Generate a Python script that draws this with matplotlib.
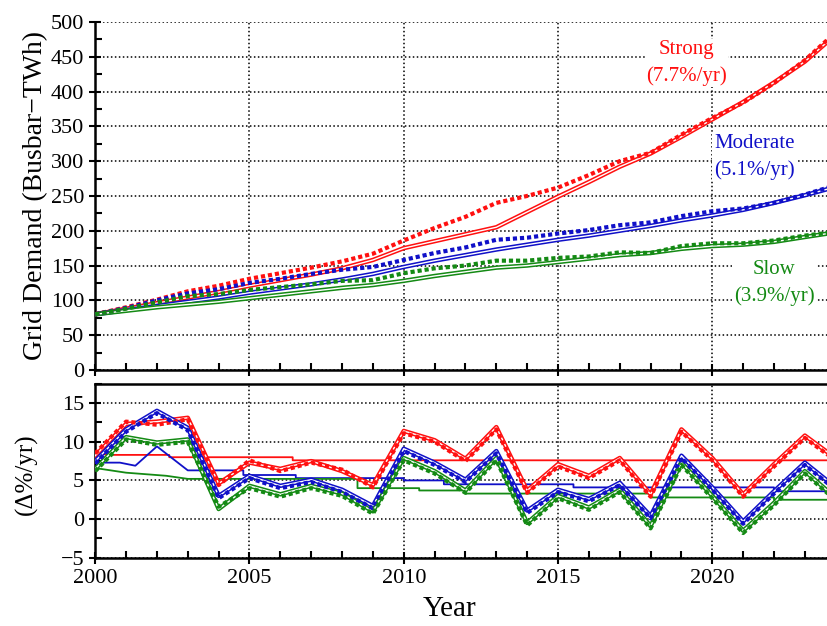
import matplotlib.pyplot as plt
from matplotlib.ticker import MultipleLocator

plt.rcParams["font.family"] = ["Liberation Serif", "DejaVu Serif"]

# top panel: grid demand (TWh)
years = [2000, 2001, 2002, 2003, 2004, 2005, 2006, 2007, 2008, 2009, 2010, 2011,
         2012, 2013, 2014, 2015, 2016, 2017, 2018, 2019, 2020, 2021, 2022, 2023, 2023.75]

strong_dem = [80, 90, 101, 113, 121, 131, 139, 147, 156, 167, 186, 204,
              220, 240, 250, 262, 280, 300, 312, 338, 362, 384, 412, 445, 475]
strong_fit = [80, 88, 96, 104, 112, 121, 129, 137, 146, 158, 175, 185,
              195, 205, 227, 249, 270, 292, 311, 335, 360, 385, 413, 443, 472]
moderate_dem = [80, 89, 100, 110, 116, 125, 131, 138, 144, 148, 158, 168,
                176, 187, 190, 196, 201, 208, 212, 221, 228, 232, 240, 252, 262]
moderate_fit = [80, 86, 92, 98, 104, 111, 117, 123, 130, 138, 148, 157,
                165, 173, 180, 187, 193, 200, 207, 215, 222, 230, 240, 251, 260]
slow_dem = [80, 88, 97, 106, 109, 115, 119, 123, 128, 129, 139, 146,
            150, 157, 157, 161, 163, 169, 168, 178, 182, 182, 186, 193, 197]
slow_fit = [80, 85, 90, 94, 98, 103, 108, 113, 118, 122, 128, 135,
            141, 147, 150, 155, 160, 165, 168, 174, 178, 180, 184, 191, 196]

# bottom panel: annual growth (%/yr)
strong_gr = [8.5, 12.6, 12.2, 12.9, 4.4, 7.6, 6.2, 7.3, 6.4, 4.1, 11.1, 10.0,
             7.5, 11.6, 3.4, 6.8, 5.3, 7.6, 2.9, 11.3, 7.6, 2.9, 6.8, 10.5, 8.3]
strong_gr2 = [8.2, 12.3, 12.6, 13.1, 4.6, 7.3, 6.5, 7.5, 6.2, 4.4, 11.4, 10.2,
              7.8, 11.9, 3.7, 7.1, 5.6, 7.9, 3.2, 11.6, 7.9, 3.2, 7.1, 10.8, 8.6]
moderate_gr = [7.2, 11.3, 13.7, 11.5, 2.7, 5.3, 4.0, 4.8, 3.5, 1.4, 8.8, 7.0,
               4.8, 8.5, 0.8, 3.5, 2.3, 4.4, 0.1, 7.9, 3.8, -0.6, 3.3, 7.0, 4.6]
moderate_gr2 = [7.5, 11.6, 14.0, 11.8, 3.0, 5.6, 4.3, 5.1, 3.8, 1.7, 9.1, 7.3,
                5.1, 8.8, 1.1, 3.8, 2.6, 4.7, 0.4, 8.2, 4.1, -0.3, 3.6, 7.3, 4.9]
slow_gr = [6.2, 10.3, 9.6, 10.0, 1.6, 4.0, 2.9, 4.0, 3.0, 0.7, 7.6, 5.9,
           3.4, 7.6, -0.8, 2.7, 1.2, 3.5, -1.2, 7.0, 2.7, -1.8, 1.8, 5.9, 3.3]
slow_gr2 = [6.5, 10.6, 9.9, 10.3, 1.3, 4.3, 3.2, 4.3, 3.3, 1.0, 7.9, 6.2,
            3.7, 7.9, -0.5, 3.0, 1.5, 3.8, -0.9, 7.3, 3.0, -1.5, 2.1, 6.2, 3.6]

# running average growth (thin lines)
strong_avg_x = [2000, 2000.5, 2002.4, 2002.4, 2006.4, 2006.4, 2023.75]
strong_avg_y = [8.5, 8.3, 8.3, 8.0, 8.0, 7.6, 7.6]
moderate_avg_x = [2000, 2000.8, 2001.3, 2002.0, 2003.0, 2004.8, 2004.8, 2006.5, 2006.5,
                  2010.0, 2010.0, 2011.3, 2011.3, 2015.5, 2015.5, 2022.0, 2022.0, 2023.75]
moderate_avg_y = [7.3, 7.3, 6.9, 9.4, 6.3, 6.3, 5.7, 5.7, 5.3,
                  5.3, 5.0, 5.0, 4.5, 4.5, 4.1, 4.1, 3.6, 3.6]
slow_avg_x = [2000, 2001.0, 2002.3, 2003.0, 2008.5, 2008.5, 2010.5, 2010.5, 2012.0, 2012.0,
              2018.0, 2018.0, 2022.0, 2022.0, 2023.75]
slow_avg_y = [6.6, 6.0, 5.6, 5.2, 5.2, 4.0, 4.0, 3.7, 3.7, 3.3,
              3.3, 2.8, 2.8, 2.5, 2.5]

RED, BLUE, GREEN = "#ff1010", "#1010c8", "#148a14"

fig = plt.figure(figsize=(8.28, 6.26), dpi=100)
ax1 = fig.add_axes([0.115, 0.409, 0.885, 0.556])
ax2 = fig.add_axes([0.115, 0.109, 0.885, 0.278])


def marked(ax, y, c):
    ax.plot(years, y, color=c, lw=3.0, ls=(0, (1.0, 0.7)), zorder=4)


def double(ax, y, c):
    ax.plot(years, y, color=c, lw=3.2, zorder=3)
    ax.plot(years, y, color="white", lw=1.0, zorder=3)


for dem, fit, c in [(strong_dem, strong_fit, RED), (moderate_dem, moderate_fit, BLUE),
                    (slow_dem, slow_fit, GREEN)]:
    double(ax1, fit, c)
    marked(ax1, dem, c)

for gr, gr2, ax_, ay_, c in [(strong_gr, strong_gr2, strong_avg_x, strong_avg_y, RED),
                             (moderate_gr, moderate_gr2, moderate_avg_x, moderate_avg_y, BLUE),
                             (slow_gr, slow_gr2, slow_avg_x, slow_avg_y, GREEN)]:
    ax2.plot(ax_, ay_, color=c, lw=1.3, zorder=2)
    double(ax2, gr2, c)
    marked(ax2, gr, c)

for ax in (ax1, ax2):
    ax.set_xlim(2000, 2023.75)
    ax.xaxis.set_major_locator(MultipleLocator(5))
    ax.xaxis.set_minor_locator(MultipleLocator(1))
    ax.grid(True, which="major", color="black", ls=(0, (1, 1.6)), lw=1.1)
    ax.tick_params(which="major", direction="inout", length=9, width=1.5, labelsize=16)
    ax.tick_params(which="minor", direction="in", length=5, width=1.5)
    ax.spines["right"].set_visible(False)
    ax.spines["left"].set_linewidth(1.8)
    ax.spines["bottom"].set_linewidth(1.8)

ax1.spines["top"].set_visible(False)
ax1.set_ylim(0, 500)
ax1.yaxis.set_major_locator(MultipleLocator(50))
ax1.yaxis.set_minor_locator(MultipleLocator(25))
ax1.tick_params(axis="x", labelbottom=False)
ax1.set_ylabel("Grid Demand (Busbar\u2212TWh)", fontsize=20, labelpad=2)

ax2.spines["top"].set_linewidth(1.8)
ax2.set_ylim(-5, 17.5)
ax2.yaxis.set_minor_locator(MultipleLocator(2.5))
ax2.set_yticks([-5, 0, 5, 10, 15])
ax2.set_ylabel("(\u0394%/yr)", fontsize=18)
ax2.yaxis.set_label_coords(-0.078, 0.48)
ax2.set_xlabel("Year", fontsize=21)
ax2.xaxis.set_label_coords(0.484, -0.22)

box = dict(facecolor="white", edgecolor="none", pad=1)
ax1.text(2019.16, 441, "Strong\n(7.7%/yr)", color=RED, fontsize=15, ha="center",
         va="center", linespacing=1.45, bbox=box, zorder=5)
ax1.text(2021.36, 306, "Moderate\n(5.1%/yr)", color=BLUE, fontsize=15, ha="center",
         va="center", linespacing=1.45, bbox=box, zorder=5)
ax1.text(2022.0, 125, "Slow\n(3.9%/yr)", color=GREEN, fontsize=15, ha="center",
         va="center", linespacing=1.45, bbox=box, zorder=5)

fig.savefig("out.png", dpi=100)
